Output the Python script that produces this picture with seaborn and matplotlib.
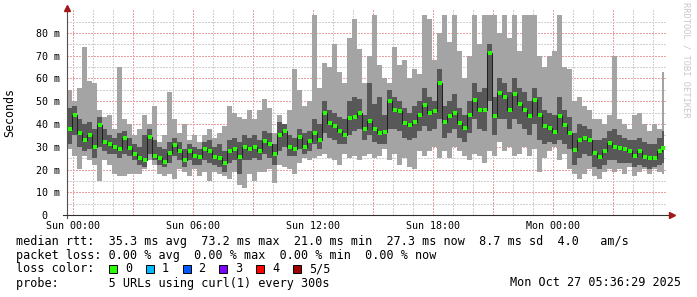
import numpy as np
import matplotlib
matplotlib.use("Agg")
import matplotlib.pyplot as plt
import seaborn as sns
from matplotlib.patches import Rectangle

# ---------------- data (ms), one sample every 15 minutes from Sat 23:42 ----------------
median_ms = [
    38, 44, 36, 33, 35, 30, 39.5, 32, 31, 30, 29, 34, 29.5, 27, 25, 24, 34.5, 26, 25, 23.5,
    27.2, 30.9, 28, 24.3, 28, 26, 25.7, 29, 28, 25.7, 25, 22.8, 28, 29, 25.7, 29.9, 29, 30.1, 28, 32.4,
    31, 27, 35, 37, 30, 29, 34.5, 30, 32.4, 36, 33, 45, 40.4, 39, 37, 35, 42.6, 43, 45, 38,
    41.5, 38, 36, 36.3, 50, 46, 45.6, 40.4, 39.7, 41, 44, 48.5, 44.8, 45.6, 58, 40.7, 43.4, 44.8, 40.4, 38.2,
    44, 50.7, 46.3, 46.3, 71, 43.4, 53.7, 52, 46.3, 53, 49, 46.3, 43.4, 50.7, 44, 39, 38.2, 36.3, 43.4, 39.7,
    36, 28.7, 33, 33.8, 33, 27.2, 25.7, 28, 31.6, 30.1, 29.4, 29, 28, 26, 28, 25.7, 25, 25, 28, 29.4,
]
max_ms = [
    55, 50, 56, 74, 59, 58, 46, 43, 44, 38, 65, 42, 40, 35, 38, 44, 40, 48, 32, 35,
    54, 42, 36, 40, 33, 35, 32, 35, 38, 34, 36, 39, 48, 45, 43, 42, 46, 42, 46, 51,
    47, 36, 44, 40, 46, 64, 55, 48, 50, 88, 56, 67, 65, 75, 63, 58, 78, 86, 73, 58,
    70, 88, 66, 60, 58, 74, 66, 68, 60, 64, 62, 88, 86, 68, 80, 88, 76, 88, 72, 60,
    70, 88, 75, 88, 88, 88, 80, 88, 78, 88, 72, 88, 88, 88, 70, 65, 70, 72, 88, 65,
    64, 50, 52, 48, 46, 42, 42, 40, 44, 70, 42, 40, 38, 44, 45, 40, 37, 40, 38, 63,
]
min_ms = [
    29, 26, 20, 26, 24, 22, 15, 24, 22, 18, 17, 17, 18, 18, 18, 20, 24, 22, 18, 17,
    18, 16, 20, 19, 17, 20, 17, 19, 15, 19, 18, 17, 16, 19, 13, 12, 18, 15, 19, 19,
    20, 14, 22, 21, 20, 18, 23, 25, 24, 25, 26, 27, 25, 24, 22, 27, 25, 26, 24, 26,
    27, 25, 26, 29, 24, 27, 22, 25, 21, 20, 28, 26, 28, 30, 25, 28, 25, 30, 28, 26,
    24, 27, 26, 23, 28, 26, 32, 28, 30, 26, 27, 30, 26, 29, 19, 25, 28, 30, 24, 27,
    20, 18, 16, 18, 20, 17, 16, 19, 20, 19, 20, 18, 21, 17, 19, 20, 18, 20, 19, 18,
]
q3_ms = [
    47, 48, 42, 40, 41, 38, 43, 38, 35, 34, 36, 37, 34, 31, 30, 35, 38, 33, 30, 29,
    32, 34, 32, 29, 31, 30, 29, 32, 33, 30, 31, 28, 33, 34, 32, 35, 34, 35, 33, 37,
    36, 31, 41, 40, 35, 34, 38, 36, 37, 42, 40, 50, 46, 45, 43, 42, 50, 52, 51, 44,
    58, 49, 52, 44, 55, 52, 50, 47, 45, 48, 50, 56, 52, 50, 64, 48, 50, 53, 47, 44,
    50, 58, 54, 56, 75, 52, 60, 58, 54, 60, 56, 54, 50, 56, 52, 46, 45, 44, 52, 46,
    43, 36, 40, 39, 38, 33, 33, 34, 37, 38, 35, 34, 33, 33, 34, 32, 31, 31, 34, 37,
]
q1_ms = [
    31, 35, 30, 28, 29, 25, 30, 28, 27, 27, 25, 27, 26, 24, 22, 21, 27, 24, 22, 21,
    23, 26, 24, 21, 24, 22, 22, 24, 23, 22, 21, 19, 23, 24, 18, 24, 24, 25, 24, 27,
    25, 22, 28, 30, 26, 26, 29, 27, 28, 31, 29, 36, 34, 33, 31, 31, 35, 37, 38, 33,
    35, 32, 31, 31, 38, 38, 37, 34, 33, 34, 37, 39, 37, 38, 42, 34, 36, 38, 34, 32,
    36, 42, 38, 37, 50, 35, 42, 42, 38, 42, 40, 38, 35, 40, 33, 31, 32, 31, 33, 31,
    29, 22, 25, 27, 26, 21, 20, 22, 24, 24, 23, 23, 23, 21, 22, 21, 20, 21, 22, 23,
]

start_hour = -0.3      # Sat 23:42, hours relative to Sun 00:00
step_hours = 0.25
last_edge_hour = 29.55

x_tick_hours = [0, 6, 12, 18, 24]
x_tick_labels = ["Sun 00:00", "Sun 06:00", "Sun 12:00", "Sun 18:00", "Mon 00:00"]
y_ticks = [0, 10, 20, 30, 40, 50, 60, 70, 80]
y_tick_labels = ["0  ", "10 m", "20 m", "30 m", "40 m", "50 m", "60 m", "70 m", "80 m"]

legend_rtt = "median rtt:  35.3 ms avg  73.2 ms max  21.0 ms min  27.3 ms now  8.7 ms sd  4.0   am/s"
legend_loss = "packet loss: 0.00 % avg  0.00 % max  0.00 % min  0.00 % now"
legend_color_title = "loss color:"
loss_labels = ["0", "1", "2", "3", "4", "5/5"]
loss_colors = ["#26ff00", "#00b8ff", "#0059ff", "#7e00ff", "#ff0000", "#a10000"]
legend_probe = "probe:       5 URLs using curl(1) every 300s"
timestamp = "Mon Oct 27 05:36:29 2025"
watermark = "RRDTOOL / TOBI OETIKER"

# ---------------- figure ----------------
plt.rcParams["font.family"] = ["DejaVu Sans Mono"]
W, H = 697, 297
fig = plt.figure(figsize=(W / 100, H / 100), dpi=100, facecolor="white")
ax = fig.add_axes([67 / W, 82 / H, 600 / W, 204.75 / H])
ax.set_facecolor("white")

n = len(median_ms)
t = start_hour + step_hours * np.arange(n)
edges = np.append(t, last_edge_hour)
mids = (edges[:-1] + edges[1:]) / 2

def ext(a):
    a = np.asarray(a, dtype=float)
    return np.append(a, a[-1])

# grid
minor_c, major_c = "#cfcfcf", "#eaa0a0"
for h in range(0, 30):
    ax.axvline(h, color=major_c if h % 3 == 0 else minor_c, lw=1.0, ls=(0, (1, 1.2)),
               antialiased=False, zorder=0)
for v in range(5, 90, 5):
    ax.axhline(v, color=major_c if v % 10 == 0 else minor_c, lw=1.0, ls=(0, (1, 1.2)),
               antialiased=False, zorder=0)

# smoke
ax.fill_between(edges, ext(min_ms), ext(max_ms), step="post", color="#a4a4a4", lw=0, zorder=2)
ax.fill_between(edges, ext(q1_ms), ext(q3_ms), step="post", color="#585858", lw=0, zorder=2.5)

# median
sns.lineplot(x=edges, y=ext(median_ms), drawstyle="steps-post", color="#202020", lw=0.72,
             estimator=None, errorbar=None, legend=False, ax=ax, zorder=3)
sns.scatterplot(x=mids, y=median_ms, marker="s", s=5, color=loss_colors[0], linewidth=0,
                legend=False, ax=ax, zorder=4)

ax.set_xlim(-0.3, 29.7)
ax.set_ylim(0, 90)
for s in ax.spines.values():
    s.set_visible(False)
ax.set_xticks(x_tick_hours)
ax.set_xticklabels(x_tick_labels, fontsize=7.2)
ax.set_yticks(y_ticks)
ax.set_yticklabels(y_tick_labels, fontsize=7.2)
ax.tick_params(axis="x", length=0, pad=4)
ax.tick_params(axis="y", length=0, pad=5)
ax.set_xlabel("")
ax.set_ylabel("")

# axis lines with arrows
ax.plot([0, 0], [-3 / 204.75, 207 / 204.75], transform=ax.transAxes, clip_on=False,
        color="#505050", lw=0.8, zorder=5)
ax.plot([0], [207 / 204.75], transform=ax.transAxes, clip_on=False, marker="^", ms=4,
        color="#a01818", zorder=6)
ax.plot([-4 / 600, 604 / 600], [0, 0], transform=ax.transAxes, clip_on=False,
        color="#303030", lw=0.8, zorder=5)
ax.plot([605 / 600], [0], transform=ax.transAxes, clip_on=False, marker=">", ms=4,
        color="#a01818", zorder=6)

# texts
fig.text(10 / W, 1 - 113 / H, "Seconds", rotation=90, ha="center", va="center", fontsize=8.4)
fig.text(686 / W, 1 - 60 / H, watermark, rotation=270, ha="center", va="center",
         fontsize=6.3, color="#c8c8c8")

fs = 8.5
fig.text(16 / W, 1 - 241 / H, legend_rtt, ha="left", va="center", fontsize=fs)
fig.text(16 / W, 1 - 255 / H, legend_loss, ha="left", va="center", fontsize=fs)
fig.text(16 / W, 1 - 269 / H, legend_color_title, ha="left", va="center", fontsize=fs)
box0, spacing, bw = 109, 36.8, 8
for k, (lab, col) in enumerate(zip(loss_labels, loss_colors)):
    bx = box0 + spacing * k
    fig.patches.append(Rectangle((bx / W, 1 - (269 + bw / 2) / H), bw / W, bw / H,
                                 transform=fig.transFigure, facecolor=col,
                                 edgecolor="black", lw=0.7))
    fig.text((bx + 16) / W, 1 - 269 / H, lab, ha="left", va="center", fontsize=fs)
fig.text(16 / W, 1 - 283 / H, legend_probe, ha="left", va="center", fontsize=fs)
fig.text(681 / W, 1 - 283 / H, timestamp, ha="right", va="center", fontsize=fs)

fig.savefig("out.png", dpi=100, facecolor="white")
